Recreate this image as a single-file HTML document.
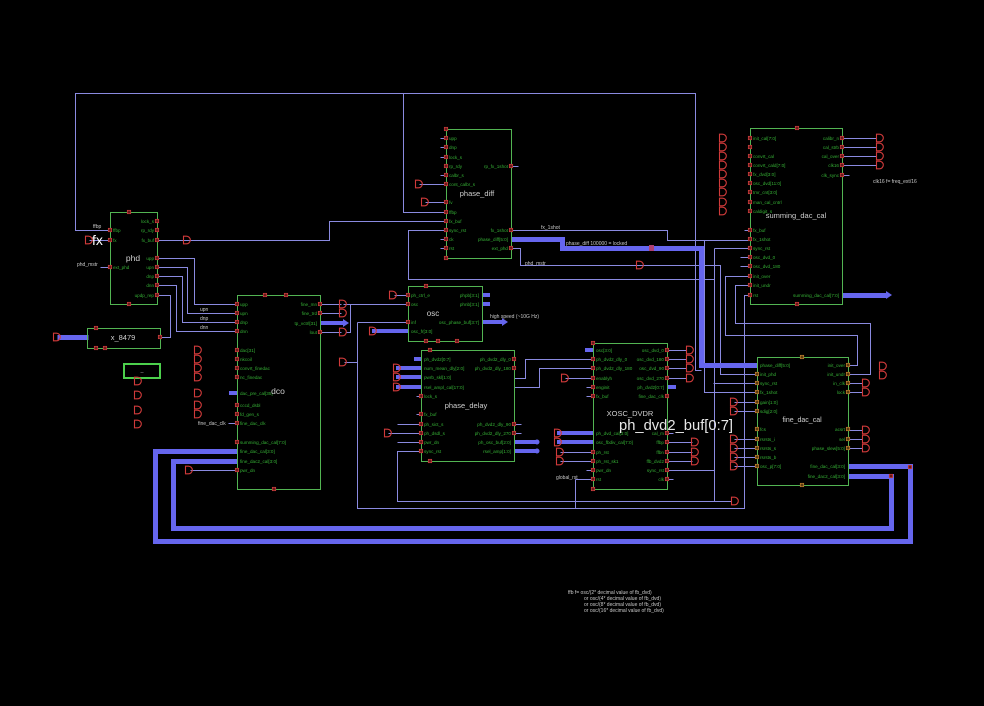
<!DOCTYPE html>
<html><head><meta charset="utf-8"><style>
html,body{margin:0;padding:0;background:#000;}
svg{display:block;}
.w{stroke:#8a8ae0;stroke-width:1;fill:none}
.b{stroke:#6666ee;stroke-width:5;fill:none}
.bs{stroke:#6666ee;stroke-width:4;fill:none}
.bx{stroke:#52b452;stroke-width:1;fill:none}
.pl{font-family:"Liberation Sans",sans-serif;font-size:4.6px;fill:#35b035}
.pr{font-family:"Liberation Sans",sans-serif;font-size:4.6px;fill:#35b035;text-anchor:end}
.g{font-family:"Liberation Sans",sans-serif;font-size:5px;fill:#c8c8c8}
.n{font-family:"Liberation Sans",sans-serif;fill:#cfcfcf;text-anchor:middle}
</style></head><body>
<svg width="984" height="706" viewBox="0 0 984 706" xmlns="http://www.w3.org/2000/svg">
<defs>
<g id="p"><rect x="-1.7" y="-1.7" width="3.4" height="3.4" fill="#6a1a1a" stroke="#d04040" stroke-width="0.7"/></g>
<g id="q"><rect x="-1.7" y="-1.7" width="3.4" height="3.4" fill="#5a3a10" stroke="#c08030" stroke-width="0.7"/></g>
<g id="D"><path d="M0.5,-3.8 H3.5 A3.8,3.8 0 0 1 3.5,3.8 H0.5 Z" fill="none" stroke="#d03a3a" stroke-width="1.1"/></g>
</defs>
<rect width="984" height="706" fill="#000"/>

<!-- ============ THIN WIRES ============ -->
<g class="w" transform="translate(0.5,0.5)">
<path d="M110,230 H75 V93 H695 V370 H701"/>
<path d="M403,93 V212 H446"/>
<path d="M157,240 H329 V221 H446"/>
<path d="M89,240 H110"/>
<path d="M100,267 H110"/>
<path d="M157,258 H194 V304 H237"/>
<path d="M157,267 H187 V313 H237"/>
<path d="M157,276 H182 V322 H237"/>
<path d="M157,285 H176 V331 H237"/>
<path d="M157,295 H170 V337 H160"/>
<path d="M320,304 H341"/>
<path d="M320,313 H341"/>
<path d="M320,332 H341"/>
<path d="M346,332 H350 V304 H408"/>
<path d="M343,304 H350"/>
<path d="M344,362 H357"/>
<path d="M357,322 H408"/>
<path d="M357,322 V508 H744 V295 H750"/>
<path d="M394,295 H408"/>
<path d="M190,470 H237"/>
<path d="M228,423 H237"/>
<path d="M440,138 H446 M440,147 H446 M440,157 H446 M440,175 H446 M440,239 H446 M440,248 H446"/>
<path d="M419,184 H446"/>
<path d="M425,202 H446"/>
<path d="M511,166 H518"/>
<path d="M446,230 H408 V279 H714"/>
<path d="M714,248 V501"/>
<path d="M714,248 H750"/>
<path d="M713,383 H757"/>
<path d="M667,470 H714"/>
<path d="M421,451 H397 V501 H731"/>
<path d="M511,230 H667 V240 H750"/>
<path d="M704,240 V392 H757"/>
<path d="M511,248 H520 V265 H720 V374 H757"/>
<path d="M744,230 H750"/>
<path d="M740,257 H750 M740,266 H750"/>
<path d="M750,276 H725 V335 H857 V365 H848"/>
<path d="M750,285 H735 V323 H870 V374 H848"/>
<path d="M842,138 H876 M842,147 H876 M842,156 H876 M842,165 H876"/>
<path d="M842,175 H849"/>
<path d="M416,396 H421 M416,414 H421"/>
<path d="M397,424 H421"/>
<path d="M388,433 H421"/>
<path d="M397,442 H421"/>
<path d="M514,424 H521 M514,433 H521"/>
<path d="M514,378 H525 V359 H593"/>
<path d="M514,387 H539 V368 H593"/>
<path d="M565,378 H593"/>
<path d="M586,387 H593 M586,396 H593 M586,470 H593"/>
<path d="M560,452 H593 M560,461 H593"/>
<path d="M575,479 H593 M575,479 V508"/>
<path d="M667,350 H686 M667,359 H686 M667,368 H686 M667,378 H686"/>
<path d="M667,433 H673 M667,479 H673"/>
<path d="M667,442 H692 M667,452 H692 M667,461 H692"/>
<path d="M734,402 H757 M734,411 H757 M734,439 H757 M734,448 H757 M734,457 H757 M734,466 H757"/>
<path d="M848,383 H862 M848,392 H862"/>
<path d="M848,430 H862 M848,439 H862 M848,448 H862"/>
</g>

<!-- ============ BUSES ============ -->
<g class="b" transform="translate(0.5,0.5)">
<path d="M848,466 H910 V541 H155 V451 H237"/>
<path d="M848,476 H891 V528 H173 V461 H237"/>
<path d="M511,239 H562 V248 H701 V365 H757"/>
<path d="M57,337 H88"/>
<path d="M842,295 H886"/>
</g>
<g class="bs">
<path d="M229,393 H237"/>
<path d="M320,323 H343"/>
<path d="M372,331 H408"/>
<path d="M482,295 H490 M482,304 H490"/>
<path d="M482,322 H502"/>
<path d="M414,359 H421"/>
<path d="M396,368 H421 M396,377 H421 M396,387 H421"/>
<path d="M514,442 H536 M514,451 H536"/>
<path d="M585,350 H593"/>
<path d="M557,433 H593 M557,442 H593"/>
<path d="M667,387 H676"/>
</g>
<path d="M343,319 L349,323 L343,327 Z M502,318 L508,322 L502,326 Z M886,291 L892,295 L886,299 Z" fill="#6666ee"/>
<circle cx="537" cy="442" r="2.5" fill="#6666ee"/><circle cx="537" cy="451" r="2.5" fill="#6666ee"/>
<rect x="649" y="245" width="5" height="6" fill="#b04070"/>

<!-- ============ BOXES ============ -->
<g class="bx" transform="translate(0.5,0.5)">
<rect x="110" y="212" width="47" height="92"/>
<rect x="87" y="328" width="73" height="20"/>
<rect x="237" y="295" width="83" height="194"/>
<rect x="446" y="129" width="65" height="129"/>
<rect x="408" y="286" width="74" height="55"/>
<rect x="421" y="350" width="93" height="111"/>
<rect x="593" y="343" width="74" height="146"/>
<rect x="750" y="128" width="92" height="176"/>
<rect x="757" y="357" width="91" height="128"/>
</g>
<rect x="124" y="364" width="36" height="14" fill="none" stroke="#4cd04c" stroke-width="2"/>
<text x="142" y="374" class="g" text-anchor="middle">--</text>

<!-- ============ D SHAPES ============ -->
<g>
<use href="#D" x="85" y="240"/><use href="#D" x="183" y="240"/><use href="#D" x="53" y="337"/>
<use href="#D" x="194" y="350"/><use href="#D" x="194" y="359"/><use href="#D" x="194" y="368"/><use href="#D" x="194" y="377"/>
<use href="#D" x="194" y="393"/><use href="#D" x="194" y="405"/><use href="#D" x="194" y="414"/><use href="#D" x="185" y="470"/>
<use href="#D" x="134" y="381"/><use href="#D" x="134" y="395"/><use href="#D" x="134" y="410"/><use href="#D" x="134" y="424"/>
<use href="#D" x="339" y="304"/><use href="#D" x="339" y="313"/><use href="#D" x="339" y="332"/><use href="#D" x="339" y="362"/>
<use href="#D" x="389" y="295"/><use href="#D" x="415" y="184"/><use href="#D" x="421" y="202"/><use href="#D" x="636" y="265"/>
<use href="#D" x="384" y="433"/><use href="#D" x="393" y="368"/><use href="#D" x="393" y="377"/><use href="#D" x="393" y="387"/>
<use href="#D" x="369" y="331"/>
<use href="#D" x="561" y="378"/><use href="#D" x="556" y="452"/><use href="#D" x="556" y="461"/><use href="#D" x="554" y="433"/><use href="#D" x="554" y="442"/>
<use href="#D" x="686" y="350"/><use href="#D" x="686" y="359"/><use href="#D" x="686" y="368"/><use href="#D" x="686" y="378"/>
<use href="#D" x="691" y="442"/><use href="#D" x="691" y="452"/><use href="#D" x="691" y="461"/>
<use href="#D" x="730" y="402"/><use href="#D" x="730" y="411"/><use href="#D" x="730" y="439"/><use href="#D" x="730" y="448"/><use href="#D" x="730" y="457"/><use href="#D" x="730" y="466"/>
<use href="#D" x="731" y="501"/>
<use href="#D" x="862" y="383"/><use href="#D" x="862" y="392"/><use href="#D" x="862" y="430"/><use href="#D" x="862" y="439"/><use href="#D" x="862" y="448"/>
<use href="#D" x="879" y="366"/><use href="#D" x="879" y="375"/>
<use href="#D" x="719" y="138"/><use href="#D" x="719" y="147"/><use href="#D" x="719" y="156"/><use href="#D" x="719" y="165"/><use href="#D" x="719" y="174"/><use href="#D" x="719" y="183"/><use href="#D" x="719" y="192"/><use href="#D" x="719" y="202"/><use href="#D" x="719" y="211"/>
<use href="#D" x="876" y="138"/><use href="#D" x="876" y="147"/><use href="#D" x="876" y="156"/><use href="#D" x="876" y="165"/>
</g>

<!-- ============ PIN MARKERS ============ -->
<g>
<use href="#p" x="110" y="230"/><use href="#p" x="110" y="240"/><use href="#p" x="110" y="267"/>
<use href="#p" x="157" y="221"/><use href="#p" x="157" y="230"/><use href="#p" x="157" y="240"/><use href="#p" x="157" y="258"/><use href="#p" x="157" y="267"/><use href="#p" x="157" y="276"/><use href="#p" x="157" y="285"/><use href="#p" x="157" y="295"/>
<use href="#p" x="129" y="212"/><use href="#p" x="129" y="304"/>
<use href="#p" x="96" y="328"/><use href="#p" x="96" y="348"/><use href="#p" x="105" y="348"/><use href="#p" x="160" y="337"/>
<use href="#p" x="237" y="304"/><use href="#p" x="237" y="313"/><use href="#p" x="237" y="322"/><use href="#p" x="237" y="331"/>
<use href="#p" x="237" y="350"/><use href="#p" x="237" y="359"/><use href="#p" x="237" y="368"/><use href="#p" x="237" y="377"/>
<use href="#p" x="237" y="405"/><use href="#p" x="237" y="414"/><use href="#p" x="237" y="423"/>
<use href="#p" x="237" y="442"/><use href="#p" x="237" y="470"/>
<use href="#p" x="320" y="304"/><use href="#p" x="320" y="313"/><use href="#p" x="320" y="332"/>
<use href="#p" x="265" y="295"/><use href="#p" x="286" y="295"/><use href="#p" x="274" y="489"/>
<use href="#p" x="446" y="129"/><use href="#p" x="446" y="138"/><use href="#p" x="446" y="147"/><use href="#p" x="446" y="157"/><use href="#p" x="446" y="166"/><use href="#p" x="446" y="175"/><use href="#p" x="446" y="184"/>
<use href="#p" x="446" y="202"/><use href="#p" x="446" y="212"/><use href="#p" x="446" y="221"/><use href="#p" x="446" y="230"/><use href="#p" x="446" y="239"/><use href="#p" x="446" y="248"/><use href="#p" x="446" y="258"/>
<use href="#p" x="511" y="166"/><use href="#p" x="511" y="230"/><use href="#p" x="511" y="248"/>
<use href="#p" x="408" y="295"/><use href="#p" x="408" y="304"/><use href="#p" x="408" y="322"/>
<use href="#p" x="426" y="286"/><use href="#p" x="426" y="341"/><use href="#p" x="438" y="341"/><use href="#p" x="457" y="341"/>
<use href="#p" x="421" y="396"/><use href="#p" x="421" y="414"/><use href="#p" x="421" y="424"/><use href="#p" x="421" y="433"/><use href="#p" x="421" y="442"/><use href="#p" x="421" y="451"/>
<use href="#p" x="514" y="359"/><use href="#p" x="514" y="368"/><use href="#p" x="514" y="424"/><use href="#p" x="514" y="433"/>
<use href="#p" x="430" y="350"/><use href="#p" x="430" y="461"/>
<use href="#p" x="593" y="343"/><use href="#p" x="593" y="359"/><use href="#p" x="593" y="368"/><use href="#p" x="593" y="378"/><use href="#p" x="593" y="387"/><use href="#p" x="593" y="396"/>
<use href="#p" x="593" y="452"/><use href="#p" x="593" y="461"/><use href="#p" x="593" y="470"/><use href="#p" x="593" y="479"/><use href="#p" x="593" y="489"/>
<use href="#p" x="667" y="350"/><use href="#p" x="667" y="359"/><use href="#p" x="667" y="368"/><use href="#p" x="667" y="378"/><use href="#p" x="667" y="396"/>
<use href="#p" x="667" y="433"/><use href="#p" x="667" y="442"/><use href="#p" x="667" y="452"/><use href="#p" x="667" y="461"/><use href="#p" x="667" y="470"/><use href="#p" x="667" y="479"/>
<use href="#p" x="750" y="138"/><use href="#p" x="750" y="147"/><use href="#p" x="750" y="156"/><use href="#p" x="750" y="165"/><use href="#p" x="750" y="174"/><use href="#p" x="750" y="183"/><use href="#p" x="750" y="192"/><use href="#p" x="750" y="202"/><use href="#p" x="750" y="211"/>
<use href="#p" x="750" y="230"/><use href="#p" x="750" y="239"/><use href="#p" x="750" y="248"/><use href="#p" x="750" y="257"/><use href="#p" x="750" y="266"/><use href="#p" x="750" y="276"/><use href="#p" x="750" y="285"/><use href="#p" x="750" y="295"/>
<use href="#p" x="842" y="138"/><use href="#p" x="842" y="147"/><use href="#p" x="842" y="156"/><use href="#p" x="842" y="165"/><use href="#p" x="842" y="175"/>
<use href="#p" x="797" y="128"/><use href="#p" x="797" y="304"/>
<use href="#q" x="757" y="374"/><use href="#q" x="757" y="383"/><use href="#q" x="757" y="392"/><use href="#q" x="757" y="402"/><use href="#q" x="757" y="411"/>
<use href="#q" x="757" y="429"/><use href="#q" x="757" y="439"/><use href="#q" x="757" y="448"/><use href="#q" x="757" y="457"/><use href="#q" x="757" y="466"/>
<use href="#q" x="848" y="365"/><use href="#q" x="848" y="374"/><use href="#q" x="848" y="383"/><use href="#q" x="848" y="392"/>
<use href="#q" x="848" y="429"/><use href="#q" x="848" y="439"/><use href="#q" x="848" y="448"/>
<use href="#q" x="802" y="357"/><use href="#q" x="802" y="485"/>
<use href="#p" x="910" y="467"/><use href="#p" x="891" y="476"/>
</g>

<!-- ============ PIN LABELS ============ -->
<text class="pl" x="113" y="232">ffbp</text>
<text class="pl" x="113" y="242">fx</text>
<text class="pl" x="113" y="269">ext_phd</text>
<text class="pr" x="154" y="223">lock_s</text>
<text class="pr" x="154" y="232">rp_rdy</text>
<text class="pr" x="154" y="242">fx_buf</text>
<text class="pr" x="154" y="260">upp</text>
<text class="pr" x="154" y="269">upn</text>
<text class="pr" x="154" y="278">dnp</text>
<text class="pr" x="154" y="287">dnn</text>
<text class="pr" x="154" y="297">updp_rep</text>
<text class="pl" x="240" y="306">upp</text>
<text class="pl" x="240" y="315">upn</text>
<text class="pl" x="240" y="324">dnp</text>
<text class="pl" x="240" y="333">dnn</text>
<text class="pl" x="240" y="352">dac[31]</text>
<text class="pl" x="240" y="361">nkcoil</text>
<text class="pl" x="240" y="370">convrt_finedac</text>
<text class="pl" x="240" y="379">nc_finedac</text>
<text class="pl" x="240" y="395">dac_pre_cal[35]</text>
<text class="pl" x="240" y="407">cccd_dsbl</text>
<text class="pl" x="240" y="416">fd_gen_s</text>
<text class="pl" x="240" y="425">fine_dac_clk</text>
<text class="pl" x="240" y="444">summing_dac_cal[7:0]</text>
<text class="pl" x="240" y="453">fine_dac_cal[3:0]</text>
<text class="pl" x="240" y="463">fine_dac2_cal[3:0]</text>
<text class="pl" x="240" y="472">pwr_dn</text>
<text class="pr" x="317" y="306">fine_mn</text>
<text class="pr" x="317" y="315">fine_trd</text>
<text class="pr" x="317" y="325">tp_vctrl[31]</text>
<text class="pr" x="317" y="334">lout</text>
<text class="pl" x="449" y="140">upp</text>
<text class="pl" x="449" y="149">dnp</text>
<text class="pl" x="449" y="159">lock_s</text>
<text class="pl" x="449" y="168">rp_rdy</text>
<text class="pl" x="449" y="177">calbr_s</text>
<text class="pl" x="449" y="186">cont_calbr_s</text>
<text class="pl" x="449" y="204">fv</text>
<text class="pl" x="449" y="214">ffbp</text>
<text class="pl" x="449" y="223">fx_buf</text>
<text class="pl" x="449" y="232">sync_rst</text>
<text class="pl" x="449" y="241">ck</text>
<text class="pl" x="449" y="250">rst</text>
<text class="pr" x="508" y="168">rp_fx_1shot</text>
<text class="pr" x="508" y="232">fx_1shot</text>
<text class="pr" x="508" y="241">phase_diff[5:0]</text>
<text class="pr" x="508" y="250">ext_phd</text>
<text class="pl" x="411" y="297">ph_ctrl_e</text>
<text class="pl" x="411" y="306">osc</text>
<text class="pl" x="411" y="324">inf</text>
<text class="pl" x="411" y="333">osc_fr[3:0]</text>
<text class="pr" x="479" y="297">phpb[3:1]</text>
<text class="pr" x="479" y="306">phnb[3:1]</text>
<text class="pr" x="479" y="324">osc_phase_buf[3:7]</text>
<text class="pl" x="424" y="361">ph_dvd2[0:7]</text>
<text class="pl" x="424" y="370">num_mean_dly[2:0]</text>
<text class="pl" x="424" y="379">pwrb_skl[1:0]</text>
<text class="pl" x="424" y="389">rsel_ampl_cal[17:0]</text>
<text class="pl" x="424" y="398">lock_s</text>
<text class="pl" x="424" y="416">fx_buf</text>
<text class="pl" x="424" y="426">ph_sict_s</text>
<text class="pl" x="424" y="435">ph_dsdl_s</text>
<text class="pl" x="424" y="444">pwr_dn</text>
<text class="pl" x="424" y="453">sync_rst</text>
<text class="pr" x="511" y="361">ph_dvd2_dly_0</text>
<text class="pr" x="511" y="370">ph_dvd2_dly_180</text>
<text class="pr" x="511" y="426">ph_dvd2_dly_90</text>
<text class="pr" x="511" y="435">ph_dvd2_dly_270</text>
<text class="pr" x="511" y="444">ph_osc_buf[2:0]</text>
<text class="pr" x="511" y="453">rsel_amp[1:0]</text>
<text class="pl" x="596" y="352">osc[3:0]</text>
<text class="pl" x="596" y="361">ph_dvd2_dly_0</text>
<text class="pl" x="596" y="370">ph_dvd2_dly_180</text>
<text class="pl" x="596" y="380">enablyh</text>
<text class="pl" x="596" y="389">enginit</text>
<text class="pl" x="596" y="398">fx_buf</text>
<text class="pl" x="596" y="435">ph_dvd_cal[3:0]</text>
<text class="pl" x="596" y="444">osc_fbdiv_cal[7:0]</text>
<text class="pl" x="596" y="454">ph_rst</text>
<text class="pl" x="596" y="463">ph_rst_sk1</text>
<text class="pl" x="596" y="472">pwr_dn</text>
<text class="pl" x="596" y="481">rst</text>
<text class="pr" x="664" y="352">osc_dvd_0</text>
<text class="pr" x="664" y="361">osc_dvd_180</text>
<text class="pr" x="664" y="370">osc_dvd_90</text>
<text class="pr" x="664" y="380">osc_dvd_270</text>
<text class="pr" x="664" y="389">ph_dvd2[0:7]</text>
<text class="pr" x="664" y="398">fine_dac_clk</text>
<text class="pr" x="664" y="435">cal_m</text>
<text class="pr" x="664" y="444">ffbp</text>
<text class="pr" x="664" y="454">ffbn</text>
<text class="pr" x="664" y="463">ffb_dvd2</text>
<text class="pr" x="664" y="472">sync_rst</text>
<text class="pr" x="664" y="481">clk</text>
<text class="pl" x="753" y="140">init_cal[7:0]</text>
<text class="pl" x="753" y="158">convrt_cal</text>
<text class="pl" x="753" y="167">convrt_cald[7:0]</text>
<text class="pl" x="753" y="176">fx_dvd[3:0]</text>
<text class="pl" x="753" y="185">osc_dvd[11:0]</text>
<text class="pl" x="753" y="194">tmr_cnt[3:0]</text>
<text class="pl" x="753" y="204">man_cal_cntrl</text>
<text class="pl" x="753" y="213">caldigit_s</text>
<text class="pl" x="753" y="232">fx_buf</text>
<text class="pl" x="753" y="241">fx_1shot</text>
<text class="pl" x="753" y="250">sync_rst</text>
<text class="pl" x="753" y="259">osc_dvd_0</text>
<text class="pl" x="753" y="268">osc_dvd_180</text>
<text class="pl" x="753" y="278">init_over</text>
<text class="pl" x="753" y="287">init_undr</text>
<text class="pl" x="753" y="297">rst</text>
<text class="pr" x="839" y="140">calibr_n</text>
<text class="pr" x="839" y="149">cal_strb</text>
<text class="pr" x="839" y="158">cal_over</text>
<text class="pr" x="839" y="167">clk16</text>
<text class="pr" x="839" y="177">clk_sync</text>
<text class="pr" x="839" y="297">summing_dac_cal[7:0]</text>
<text class="pl" x="760" y="367">phase_diff[5:0]</text>
<text class="pl" x="760" y="376">init_phd</text>
<text class="pl" x="760" y="385">sync_rst</text>
<text class="pl" x="760" y="394">fx_1shot</text>
<text class="pl" x="760" y="404">gain[1:0]</text>
<text class="pl" x="760" y="413">sdig[2:0]</text>
<text class="pl" x="760" y="431">fcs</text>
<text class="pl" x="760" y="441">rsrsts_i</text>
<text class="pl" x="760" y="450">rsrsts_s</text>
<text class="pl" x="760" y="459">rsrsts_b</text>
<text class="pl" x="760" y="468">osc_p[7:0]</text>
<text class="pr" x="845" y="367">init_over</text>
<text class="pr" x="845" y="376">init_undr</text>
<text class="pr" x="845" y="385">in_clk</text>
<text class="pr" x="845" y="394">lock</text>
<text class="pr" x="845" y="431">acsrt</text>
<text class="pr" x="845" y="441">sel</text>
<text class="pr" x="845" y="450">phase_slew[5:0]</text>
<text class="pr" x="845" y="468">fine_dac_cal[3:0]</text>
<text class="pr" x="845" y="478">fine_dac2_cal[3:0]</text>

<!-- ============ BLOCK NAMES ============ -->
<text class="n" x="133" y="261" font-size="8.5">phd</text>
<text class="n" x="123" y="340" font-size="7.5">x_8479</text>
<text class="n" x="278" y="394" font-size="8.5">dco</text>
<text class="n" x="477" y="196" font-size="7.5">phase_diff</text>
<text class="n" x="433" y="316" font-size="8">osc</text>
<text class="n" x="466" y="408" font-size="7.5">phase_delay</text>
<text class="n" x="630" y="416" font-size="7.5">XOSC_DVDR</text>
<text class="n" x="796" y="218" font-size="7.5">summing_dac_cal</text>
<text class="n" x="802" y="422" font-size="7">fine_dac_cal</text>

<!-- ============ FREE LABELS ============ -->
<text class="g" x="93" y="228">ffbp</text>
<text x="92" y="245" font-family="Liberation Sans,sans-serif" font-size="14" fill="#ffffff">fx</text>
<text class="g" x="77" y="266">phd_mstr</text>
<text class="g" x="200" y="311">upn</text>
<text class="g" x="200" y="320">dnp</text>
<text class="g" x="200" y="329">dnn</text>
<text class="g" x="198" y="425">fine_dac_clk</text>
<text class="g" x="541" y="229">fx_1shot</text>
<text class="g" x="566" y="245">phase_diff 100000 = locked</text>
<text class="g" x="525" y="265">phd_mstr</text>
<text class="g" x="490" y="318">high speed (~10G Hz)</text>
<text class="g" x="556" y="479">global_rst</text>
<text class="g" x="873" y="183">clk16 f= freq_ext/16</text>
<text x="619" y="430" font-family="Liberation Sans,sans-serif" font-size="15" fill="#e8e8e8" textLength="114" lengthAdjust="spacingAndGlyphs">ph_dvd2_buf[0:7]</text>
<text class="g" x="568" y="594">ffb f= osc/(2* decimal value of fb_dvd)</text>
<text class="g" x="584" y="600">or osc/(4* decimal value of fb_dvd)</text>
<text class="g" x="584" y="606">or osc/(8* decimal value of fb_dvd)</text>
<text class="g" x="584" y="612">or osc/(16* decimal value of fb_dvd)</text>
</svg>
</body></html>
